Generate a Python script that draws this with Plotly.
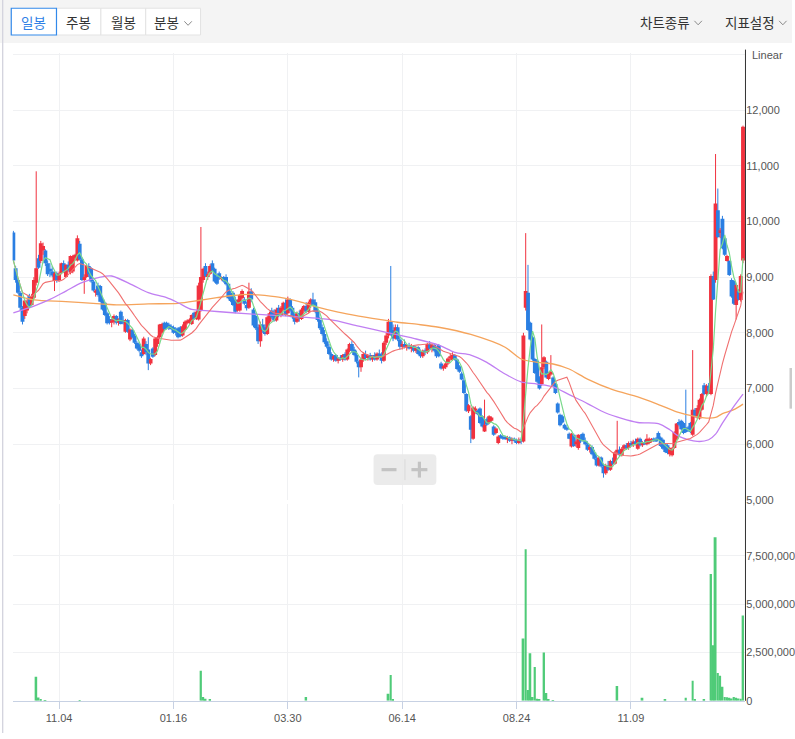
import pandas as pd
import plotly.graph_objects as go

W, H = 795, 739

# ---------------- data ----------------
tick_idx = [20, 70, 120, 170, 220, 270]
tick_text = ["11.04", "01.16", "03.30", "06.14", "08.24", "11.09"]

price_ticks = [5000, 6000, 7000, 8000, 9000, 10000, 11000, 12000, 13000]
price_tick_text = ["5,000", "6,000", "7,000", "8,000", "9,000", "10,000", "11,000", "12,000", ""]
vol_ticks = [0, 2500000, 5000000, 7500000]
vol_tick_text = ["0", "2,500,000", "5,000,000", "7,500,000"]

open_ = [
    9800, 9160, 8950, 8720, 8450, 8300, 8400, 8660, 8500, 8630, 8900, 9340, 9290, 9480, 9480, 9250, 9150, 9100, 8930, 9070,
    8950, 9070, 9250, 9000, 9220, 9080, 9100, 9350, 9300, 9600, 9320, 8950, 9000, 9200, 9160, 8920, 8720, 8850, 8840, 8600,
    8540, 8350, 8250, 8180, 8200, 8300, 8180, 8380, 8230, 8020, 8230, 7880, 8050, 7950, 7820, 7800, 7650, 7620, 7800, 7700,
    7450, 7720, 7600, 7800, 7920, 8000, 8180, 8180, 8150, 8120, 8100, 8050, 8080, 8100, 7950, 8050, 8170, 8180, 8160, 8360,
    8250, 8240, 8400, 8950, 9200, 9000, 9060, 9250, 9150, 9000, 9070, 8960, 9000, 9000, 8880, 8700, 8720, 8600, 8400, 8400,
    8620, 8600, 8500, 8450, 8740, 8420, 8300, 8100, 7850, 8150, 8100, 7980, 8200, 8400, 8350, 8220, 8450, 8300, 8420, 8540,
    8350, 8600, 8450, 8300, 8200, 8350, 8250, 8400, 8480, 8380, 8540, 8600, 8550, 8400, 8230, 8100, 7980, 7850, 7750, 7620,
    7520, 7600, 7500, 7540, 7520, 7620, 7520, 7680, 7800, 7700, 7600, 7480, 7380, 7520, 7620, 7550, 7600, 7520, 7600, 7520,
    7630, 7580, 7500, 7820, 7950, 8200, 8050, 7900, 8100, 7880, 7750, 7800, 7750, 7780, 7720, 7760, 7680, 7740, 7620, 7580,
    7680, 7650, 7800, 7720, 7780, 7700, 7780, 7450, 7360, 7380, 7450, 7540, 7510, 7600, 7520, 7400, 7270, 7150, 6900, 6590,
    6500, 6100, 6600, 6600, 6640, 6500, 6230, 6450, 6380, 6420, 6320, 6200, 6020, 6160, 6140, 6130, 6090, 6120, 6060, 6100,
    6060, 6020, 6080, 6050, 8450, 8720, 8180, 7920, 7530, 7500, 7200, 7080, 7380, 7480, 7170, 7250, 7200, 7080, 6730, 6530,
    6500, 6350, 6300, 6190, 5960, 6170, 6000, 5930, 6100, 6190, 6060, 6000, 5900, 5950, 5850, 5740, 5620, 5760, 5600, 5480,
    5620, 5540, 5700, 5650, 5850, 5900, 5800, 5920, 5980, 5930, 6020, 5980, 6050, 5920, 6100, 5980, 6040, 6000, 6020, 6050,
    6080, 6100, 6200, 6120, 6080, 6000, 5980, 5820, 5800, 5930, 6090, 6400, 6420, 6380, 6300, 6300, 6380, 6170, 6620, 6480,
    6460, 6620, 7060, 6900, 7050, 6900, 9020, 8950, 10200, 9790, 10050, 9700, 9290, 9290, 8950, 8930, 8500, 8750, 8590, 9300,
]

high = [
    9830, 9200, 8980, 8750, 8480, 8600, 8600, 8700, 8700, 9000, 10900, 9400, 9650, 9620, 9500, 9300, 9250, 9200, 9100, 9100,
    9100, 9260, 9300, 9230, 9280, 9390, 9400, 9420, 9750, 9650, 9350, 9050, 9230, 9250, 9180, 8950, 8780, 8900, 8860, 8650,
    8560, 8380, 8300, 8250, 8330, 8320, 8260, 8400, 8300, 8250, 8250, 8080, 8080, 7980, 7850, 7830, 7700, 7930, 7850, 7920,
    7550, 7740, 7920, 7950, 8160, 8180, 8200, 8200, 8180, 8150, 8130, 8100, 8100, 8120, 8150, 8220, 8240, 8260, 8330, 8380,
    8400, 8900, 9900, 9170, 9250, 9100, 9230, 9300, 9170, 9050, 9100, 9010, 9020, 9050, 8900, 8750, 8750, 8650, 8600, 8700,
    8780, 8640, 8560, 8900, 8800, 8450, 8350, 8150, 8200, 8250, 8150, 8300, 8380, 8450, 8420, 8450, 8500, 8480, 8560, 8600,
    8650, 8620, 8480, 8350, 8380, 8400, 8450, 8500, 8550, 8560, 8620, 8720, 8600, 8450, 8280, 8150, 8050, 7900, 7800, 7650,
    7600, 7620, 7560, 7600, 7620, 7650, 7720, 7820, 7850, 7750, 7680, 7500, 7550, 7650, 7680, 7620, 7640, 7600, 7650, 7650,
    7700, 7650, 7850, 8000, 8250, 9200, 8150, 8150, 8150, 7950, 7850, 7880, 7800, 7820, 7800, 7780, 7760, 7760, 7700, 7700,
    7720, 7820, 7850, 7800, 7800, 7750, 7800, 7480, 7420, 7480, 7560, 7620, 7650, 7620, 7540, 7420, 7300, 7180, 6920, 6720,
    6520, 6680, 6680, 6620, 6660, 6520, 6800, 6480, 6520, 6500, 6340, 6300, 6160, 6180, 6160, 6150, 6150, 6140, 6120, 6120,
    6100, 6120, 6120, 8000, 9790, 9220, 8200, 7950, 7550, 7520, 7220, 8150, 7580, 7500, 7300, 7600, 7220, 7100, 6750, 6550,
    6530, 6370, 6320, 6210, 6200, 6190, 6080, 6180, 6180, 6210, 6120, 6050, 6000, 5980, 5900, 5800, 5780, 5780, 5650, 5650,
    5700, 5720, 5760, 5880, 6420, 5960, 5950, 6000, 6020, 6050, 6060, 6080, 6100, 6120, 6120, 6060, 6080, 6180, 6120, 6110,
    6120, 6130, 6230, 6140, 6100, 6020, 6000, 5950, 5950, 6230, 6380, 6450, 6440, 6400, 6980, 6330, 6400, 7690, 6650, 6700,
    6820, 6920, 7100, 7080, 7100, 9050, 9100, 11210, 10590, 9880, 10100, 9720, 9400, 9300, 8980, 8950, 8880, 8780, 9050, 11720,
]

low = [
    9280, 8900, 8700, 8400, 8150, 8250, 8350, 8450, 8480, 8600, 8850, 9150, 9250, 9400, 9200, 9020, 9000, 9000, 8750, 8900,
    8920, 9050, 9080, 8990, 9100, 9050, 9070, 9300, 9280, 9300, 8930, 8700, 8990, 9000, 8900, 8740, 8650, 8650, 8550, 8400,
    8300, 8150, 8150, 8100, 8150, 8150, 8130, 8150, 8150, 8000, 8000, 7850, 7900, 7800, 7700, 7650, 7550, 7600, 7600, 7330,
    7420, 7550, 7580, 7750, 7900, 7980, 8050, 8060, 8050, 8050, 7980, 7950, 7900, 7920, 7930, 8020, 8150, 8160, 8140, 8230,
    8230, 8220, 8380, 8900, 9000, 8950, 9040, 9100, 8900, 8860, 8950, 8940, 8900, 8850, 8600, 8550, 8480, 8350, 8380, 8380,
    8600, 8500, 8400, 8430, 8550, 8100, 8050, 7800, 7750, 8000, 7950, 7960, 8150, 8250, 8200, 8200, 8280, 8280, 8400, 8300,
    8330, 8380, 8250, 8150, 8180, 8200, 8230, 8350, 8350, 8360, 8450, 8480, 8350, 8200, 8050, 7950, 7800, 7720, 7600, 7500,
    7480, 7480, 7450, 7500, 7480, 7500, 7500, 7650, 7650, 7580, 7450, 7200, 7300, 7480, 7520, 7500, 7500, 7480, 7500, 7500,
    7550, 7450, 7480, 7780, 7900, 7950, 7850, 7880, 7850, 7700, 7700, 7720, 7680, 7700, 7650, 7650, 7640, 7600, 7550, 7550,
    7600, 7620, 7700, 7650, 7650, 7550, 7560, 7340, 7320, 7350, 7420, 7500, 7500, 7500, 7330, 7280, 7150, 6900, 6580, 6560,
    6020, 6080, 6550, 6520, 6360, 6300, 6220, 6330, 6360, 6400, 6150, 6180, 6000, 6100, 6080, 6080, 6020, 6040, 6000, 6030,
    6000, 6000, 6000, 6030, 8400, 8030, 7860, 7500, 7260, 7100, 6980, 7050, 7350, 7180, 7150, 7230, 7030, 6900, 6550, 6320,
    6370, 6260, 6240, 6090, 5940, 5950, 5950, 5900, 6020, 6050, 5980, 5880, 5850, 5800, 5720, 5600, 5600, 5580, 5400, 5450,
    5520, 5520, 5620, 5630, 5820, 5780, 5780, 5880, 5900, 5900, 5950, 5950, 5980, 5900, 5960, 5950, 5990, 5980, 6000, 6030,
    6040, 6040, 6080, 5950, 5900, 5840, 5820, 5780, 5780, 5920, 6070, 6320, 6250, 6180, 6200, 6230, 6200, 6150, 6480, 6450,
    6440, 6600, 6880, 6850, 6900, 6880, 8590, 8900, 9700, 9700, 9500, 9380, 9280, 9020, 8630, 8500, 8240, 8580, 8560, 9250,
]

close = [
    9300, 8950, 8720, 8450, 8200, 8580, 8560, 8480, 8650, 8950, 9160, 9170, 9610, 9560, 9250, 9050, 9100, 9030, 9070, 8930,
    9060, 9250, 9100, 9220, 9130, 9380, 9380, 9400, 9700, 9320, 8950, 9000, 9200, 9050, 8920, 8760, 8760, 8680, 8560, 8420,
    8320, 8170, 8180, 8220, 8300, 8180, 8250, 8160, 8200, 8230, 8020, 8060, 7920, 7820, 7720, 7680, 7580, 7900, 7650, 7450,
    7530, 7570, 7900, 7920, 8150, 8160, 8070, 8080, 8080, 8070, 8000, 8000, 7920, 7940, 8120, 8200, 8220, 8240, 8320, 8250,
    8380, 8850, 9000, 9150, 9020, 9050, 9200, 9120, 8920, 8880, 8980, 9000, 8920, 8870, 8620, 8570, 8500, 8380, 8580, 8680,
    8750, 8520, 8440, 8740, 8600, 8130, 8080, 7850, 8150, 8050, 7980, 8280, 8350, 8280, 8220, 8420, 8300, 8450, 8540, 8320,
    8600, 8400, 8280, 8200, 8350, 8250, 8420, 8480, 8380, 8540, 8600, 8500, 8380, 8230, 8080, 7980, 7830, 7750, 7620, 7520,
    7580, 7500, 7540, 7520, 7600, 7520, 7700, 7800, 7680, 7600, 7480, 7380, 7520, 7620, 7550, 7600, 7520, 7580, 7520, 7630,
    7580, 7500, 7820, 7950, 8200, 8000, 7900, 8100, 7880, 7750, 7800, 7750, 7780, 7720, 7760, 7680, 7740, 7620, 7580, 7680,
    7650, 7800, 7720, 7780, 7680, 7580, 7580, 7360, 7400, 7450, 7540, 7580, 7600, 7520, 7350, 7300, 7160, 6920, 6600, 6700,
    6260, 6660, 6640, 6540, 6380, 6320, 6350, 6350, 6500, 6480, 6170, 6280, 6140, 6120, 6100, 6090, 6120, 6060, 6100, 6060,
    6020, 6080, 6050, 7950, 8750, 8050, 7880, 7520, 7280, 7120, 7000, 7380, 7560, 7200, 7260, 7300, 7050, 6920, 6570, 6340,
    6390, 6280, 6260, 6100, 6190, 5970, 6050, 6170, 6050, 6060, 6000, 5900, 5950, 5820, 5740, 5620, 5760, 5600, 5480, 5620,
    5540, 5700, 5650, 5850, 5900, 5800, 5920, 5980, 5930, 6020, 5980, 6050, 6000, 6100, 5980, 6040, 6010, 6100, 6100, 6080,
    6070, 6050, 6100, 5970, 5920, 5860, 5840, 5930, 5920, 6220, 6370, 6350, 6270, 6200, 6220, 6250, 6220, 6620, 6500, 6650,
    6800, 6900, 6900, 7050, 6950, 9020, 8600, 10320, 9720, 9840, 9520, 9400, 9380, 9040, 8650, 8520, 8860, 8600, 9020, 11700,
]

volume = [
    0, 0, 0, 0, 0, 0, 0, 0, 0, 0, 1250000, 170000, 60000, 0, 40000, 0, 0, 0, 0, 0,
    0, 0, 0, 0, 0, 0, 0, 0, 0, 30000, 0, 0, 0, 0, 0, 0, 0, 0, 0, 0,
    0, 0, 0, 0, 0, 0, 0, 0, 0, 0, 0, 0, 0, 0, 0, 0, 0, 0, 0, 0,
    0, 0, 0, 0, 0, 0, 0, 0, 0, 0, 0, 0, 0, 0, 0, 0, 0, 0, 0, 0,
    0, 0, 1550000, 200000, 100000, 0, 60000, 0, 0, 0, 0, 0, 0, 0, 0, 0, 0, 0, 0, 0,
    0, 0, 0, 0, 0, 0, 0, 0, 0, 0, 0, 0, 0, 0, 0, 0, 0, 0, 0, 0,
    0, 0, 0, 0, 0, 0, 0, 0, 200000, 0, 0, 0, 0, 0, 0, 0, 0, 0, 0, 0,
    0, 0, 0, 0, 0, 0, 0, 0, 0, 0, 0, 0, 0, 0, 0, 0, 0, 0, 0, 0,
    0, 0, 0, 0, 360000, 1330000, 60000, 0, 0, 0, 0, 0, 0, 0, 0, 0, 0, 0, 0, 0,
    0, 0, 0, 0, 0, 0, 0, 0, 0, 0, 0, 0, 0, 0, 0, 0, 0, 0, 0, 0,
    0, 0, 0, 0, 0, 0, 0, 0, 0, 0, 0, 0, 0, 0, 0, 0, 0, 0, 0, 0,
    0, 0, 0, 3230000, 7850000, 560000, 2460000, 200000, 1750000, 100000, 60000, 0, 2500000, 400000, 60000, 0, 40000, 0, 0, 0,
    0, 0, 0, 0, 0, 0, 0, 0, 0, 0, 0, 0, 0, 0, 0, 0, 0, 0, 0, 0,
    0, 0, 0, 0, 770000, 0, 0, 0, 0, 0, 0, 0, 0, 0, 0, 150000, 0, 0, 0, 0,
    0, 0, 0, 0, 0, 50000, 0, 0, 0, 0, 0, 0, 0, 0, 160000, 0, 0, 1040000, 60000, 0,
    0, 0, 50000, 0, 0, 6570000, 2870000, 8470000, 1440000, 1300000, 720000, 200000, 180000, 160000, 120000, 200000, 160000, 120000, 100000, 4410000,
]

# 60-day and 120-day moving averages (candle index, price)
ma60_idx = [0, 9, 16, 23, 30, 38, 43, 52, 59, 67, 72, 78, 84, 96, 107, 120, 138, 151, 164, 175,
            186, 193, 200, 207, 215, 222, 229, 236, 243, 251, 259, 273, 282, 287, 291, 299, 304, 307, 310, 315, 319]
ma60_val = [8360, 8480, 8600, 8750, 8900, 9000, 9020, 8860, 8720, 8630, 8540, 8420, 8400, 8360, 8330, 8300, 8240, 8120, 8000, 7900,
            7780, 7650, 7600, 7470, 7260, 7120, 7080, 7030, 6890, 6730, 6560, 6390, 6370, 6260, 6140, 6050, 6080, 6180, 6380, 6680, 6900]

ma120_idx = [0, 9, 23, 38, 46, 59, 72, 81, 89, 96, 103, 107, 116, 125, 133, 142, 151, 160, 168, 177,
             186, 200, 215, 222, 229, 236, 243, 251, 262, 273, 281, 290, 299, 303, 307, 310, 315, 319]
ma120_val = [8680, 8590, 8560, 8520, 8500, 8520, 8530, 8580, 8630, 8670, 8690, 8680, 8640, 8560, 8460, 8370, 8300, 8240, 8190, 8150,
             8100, 7970, 7740, 7530, 7470, 7440, 7350, 7170, 6980, 6850, 6730, 6580, 6490, 6470, 6480, 6550, 6620, 6720]

# ---------------- geometry helpers ----------------
def PX(x):
    return x / W


def PY(y):
    return 1 - y / H


n = len(close)
idx = list(range(n))

RED = "#f1323f"
BLUE = "#2b7fe2"
GREEN_VOL = "#4fcb78"

up = [c >= o for o, c in zip(open_, close)]
body_base = [min(o, c) for o, c in zip(open_, close)]
body_h = [max(abs(c - o), 20) for o, c in zip(open_, close)]
body_col = [RED if u else BLUE for u in up]


def wick_xy(flag):
    xs, ys = [], []
    for i in idx:
        if up[i] == flag:
            xs += [i, i, None]
            ys += [low[i], high[i], None]
    return xs, ys


s = pd.Series(close, dtype=float)
ma5 = s.rolling(5, min_periods=1).mean()
ma20 = s.rolling(20, min_periods=1).mean()

fig = go.Figure()

fig.add_trace(go.Bar(x=idx, y=body_h, base=body_base, width=1.7,
                     marker=dict(color=body_col, line=dict(width=0)),
                     xaxis="x", yaxis="y", hoverinfo="skip"))
rx, ry = wick_xy(True)
bx, by = wick_xy(False)
fig.add_trace(go.Scatter(x=rx, y=ry, mode="lines", line=dict(color=RED, width=1),
                         xaxis="x", yaxis="y", hoverinfo="skip"))
fig.add_trace(go.Scatter(x=bx, y=by, mode="lines", line=dict(color=BLUE, width=1),
                         xaxis="x", yaxis="y", hoverinfo="skip"))

fig.add_trace(go.Scatter(x=ma120_idx, y=ma120_val, mode="lines",
                         line=dict(color="#f5a45c", width=1.3, shape="spline", smoothing=0.8),
                         xaxis="x", yaxis="y", hoverinfo="skip"))
fig.add_trace(go.Scatter(x=ma60_idx, y=ma60_val, mode="lines",
                         line=dict(color="#c07ff2", width=1.3, shape="spline", smoothing=0.8),
                         xaxis="x", yaxis="y", hoverinfo="skip"))
fig.add_trace(go.Scatter(x=idx, y=ma20, mode="lines",
                         line=dict(color="#f07070", width=1.1),
                         xaxis="x", yaxis="y", hoverinfo="skip"))
fig.add_trace(go.Scatter(x=idx, y=ma5, mode="lines",
                         line=dict(color="#7ad98b", width=1.2),
                         xaxis="x", yaxis="y", hoverinfo="skip"))

fig.add_trace(go.Bar(x=idx, y=volume, width=0.85,
                     marker=dict(color=GREEN_VOL, line=dict(width=0)),
                     xaxis="x2", yaxis="y2", hoverinfo="skip"))

# ---------------- axes ----------------
x_dom = [PX(12.7), PX(748)]
x_rng = [-0.30, 319.95]
GRID = "#f0f1f3"
NUMFONT = dict(family="Liberation Sans Narrow, Arial Narrow, Liberation Sans, sans-serif", size=11, color="#555555")

price_top_px, price_bot_px = 53.0, 504.3
ppx = 56.19 / 1000.0
price_rng = [5000 - 0.3 / ppx, 5000 + (price_bot_px - price_top_px) / ppx]

vol_top_px, vol_bot_px = 508.0, 706.5
vol_rng = [0, 2500000 * (vol_bot_px - vol_top_px) / 48.67]

fig.update_layout(
    width=W, height=H,
    margin=dict(l=0, r=0, t=0, b=0),
    paper_bgcolor="white", plot_bgcolor="rgba(0,0,0,0)",
    showlegend=False, barmode="overlay",
    xaxis=dict(domain=x_dom, range=x_rng, anchor="y", showticklabels=False,
               tickvals=tick_idx, showgrid=True, gridcolor=GRID, gridwidth=1,
               zeroline=False, showline=False, ticks=""),
    xaxis2=dict(domain=x_dom, range=x_rng, anchor="y2", matches="x",
                tickvals=tick_idx, ticktext=tick_text, showgrid=True, gridcolor=GRID,
                zeroline=False, showline=True, linecolor="#c7d1e3", linewidth=1,
                ticks="outside", ticklen=7, tickcolor="#c7d1e3", tickwidth=1,
                tickfont=NUMFONT),
    yaxis=dict(domain=[PY(price_bot_px), PY(price_top_px)], range=price_rng, anchor="x",
               side="right", tickvals=price_ticks, ticktext=price_tick_text,
               showgrid=True, gridcolor=GRID, zeroline=False, showline=False,
               ticks="", tickfont=NUMFONT),
    yaxis2=dict(domain=[PY(vol_bot_px), PY(vol_top_px)], range=vol_rng, anchor="x2",
                side="right", tickvals=vol_ticks, ticktext=vol_tick_text,
                showgrid=True, gridcolor=GRID, zeroline=False, showline=False,
                ticks="", tickfont=NUMFONT),
)

# ---------------- decorations ----------------
shapes = []
# toolbar background
shapes.append(dict(type="rect", xref="paper", yref="paper", x0=0, x1=1, y0=PY(43.3), y1=1,
                   fillcolor="#f4f4f4", line=dict(width=0), layer="below"))
# left border
shapes.append(dict(type="line", xref="paper", yref="paper", x0=PX(2.7), x1=PX(2.7), y0=0, y1=1,
                   line=dict(color="#d3d3dd", width=1.3)))
# buttons
btns = [(56.7, 101.3), (101.3, 146.3), (146.3, 201.3)]
for bx0, bx1 in btns:
    shapes.append(dict(type="rect", xref="paper", yref="paper", x0=PX(bx0), x1=PX(bx1),
                       y0=PY(35.3), y1=PY(8.3), fillcolor="white",
                       line=dict(color="#e3e3e3", width=1)))
shapes.append(dict(type="rect", xref="paper", yref="paper", x0=PX(11.3), x1=PX(56.7),
                   y0=PY(35.3), y1=PY(8.3), fillcolor="white",
                   line=dict(color="#3289ea", width=1.2)))


def chevron(cx, cy, w=7.5, h=4):
    return dict(type="path", xref="paper", yref="paper",
                path=f"M {PX(cx - w / 2)},{PY(cy - h / 2)} L {PX(cx)},{PY(cy + h / 2)} L {PX(cx + w / 2)},{PY(cy - h / 2)}",
                line=dict(color="#8a8a8a", width=1))


shapes.append(chevron(188.8, 23.5))
shapes.append(chevron(700.8, 23.0))
shapes.append(chevron(785.8, 23.0))

# right price axis line
shapes.append(dict(type="line", xref="paper", yref="paper", x0=PX(748.3), x1=PX(748.3),
                   y0=PY(vol_bot_px), y1=PY(50), line=dict(color="#333333", width=1)))

# zoom widget
x0, x1, y0, y1, r = 375, 438, 458, 489, 4
p = (f"M {PX(x0 + r)},{PY(y0)} L {PX(x1 - r)},{PY(y0)} Q {PX(x1)},{PY(y0)} {PX(x1)},{PY(y0 + r)} "
     f"L {PX(x1)},{PY(y1 - r)} Q {PX(x1)},{PY(y1)} {PX(x1 - r)},{PY(y1)} "
     f"L {PX(x0 + r)},{PY(y1)} Q {PX(x0)},{PY(y1)} {PX(x0)},{PY(y1 - r)} "
     f"L {PX(x0)},{PY(y0 + r)} Q {PX(x0)},{PY(y0)} {PX(x0 + r)},{PY(y0)} Z")
shapes.append(dict(type="path", xref="paper", yref="paper", path=p,
                   fillcolor="rgba(233,233,233,0.92)", line=dict(width=0)))
shapes.append(dict(type="line", xref="paper", yref="paper", x0=PX(406.5), x1=PX(406.5),
                   y0=PY(484), y1=PY(463), line=dict(color="#d9d9d9", width=1)))
shapes.append(dict(type="line", xref="paper", yref="paper", x0=PX(383), x1=PX(398),
                   y0=PY(473.5), y1=PY(473.5), line=dict(color="#c3c3c3", width=3.2)))
shapes.append(dict(type="line", xref="paper", yref="paper", x0=PX(413), x1=PX(429),
                   y0=PY(473.5), y1=PY(473.5), line=dict(color="#c3c3c3", width=3.2)))
shapes.append(dict(type="line", xref="paper", yref="paper", x0=PX(421), x1=PX(421),
                   y0=PY(481.5), y1=PY(465.5), line=dict(color="#c3c3c3", width=3.2)))
# right edge scroll piece
shapes.append(dict(type="rect", xref="paper", yref="paper", x0=PX(792.5), x1=1,
                   y0=PY(412), y1=PY(371), fillcolor="#cbcbcb", line=dict(width=0)))

KFONT = "Noto Sans CJK KR, Noto Sans, sans-serif"
ann = []


def label(text, cx, cy, color="#333333", size=13.5, anchor="center", family=KFONT):
    ann.append(dict(text=text, xref="paper", yref="paper", x=PX(cx), y=PY(cy),
                    xanchor=anchor, yanchor="middle", showarrow=False,
                    font=dict(family=family, size=size, color=color)))


label("일봉", 34.0, 22.0, color="#2f7fe6")
label("주봉", 79.0, 22.0)
label("월봉", 123.8, 22.0)
label("분봉", 166.7, 22.0)
label("차트종류", 668.0, 22.0)
label("지표설정", 753.0, 22.0)
label("Linear", 752.5, 55.5, color="#555555", size=11, anchor="left",
      family="Liberation Sans Narrow, Arial Narrow, Liberation Sans, sans-serif")

fig.update_layout(shapes=shapes, annotations=ann)

# Page: no body margin, no scrollbars; the figure fills the real window exactly.
POST = (
    "var st=document.createElement('style');"
    "st.innerHTML='html,body{margin:0;padding:0;overflow:hidden;}"
    ".plotly-graph-div{position:absolute;left:0;top:0;}';"
    "document.head.appendChild(st);"
    "var gd=document.getElementById('{plot_id}');"
    "var ww=window.innerWidth, hh=window.innerHeight;"
    "if(ww>300 && hh>300 && (ww!==795 || hh!==739)){"
    "gd.style.width=ww+'px';gd.style.height=hh+'px';"
    "Plotly.relayout(gd,{width:ww,height:hh});}"
)

fig.write_html("out.html", config=dict(displayModeBar=False), post_script=POST)
